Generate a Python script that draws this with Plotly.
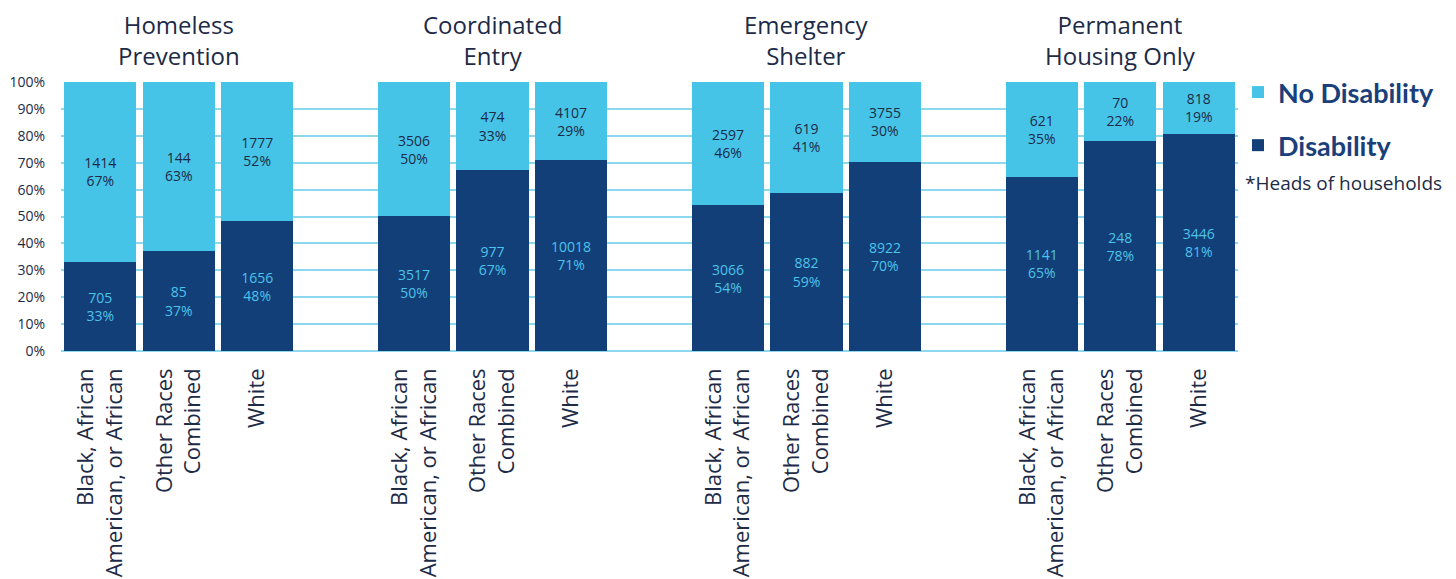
import plotly.graph_objects as go

programs = ["Homeless<br>Prevention", "Coordinated<br>Entry", "Emergency<br>Shelter", "Permanent<br>Housing Only"]
races = ["Black, African<br>American, or African", "Other Races<br>Combined", "White"]

disability = [705, 85, 1656, 3517, 977, 10018, 3066, 882, 8922, 1141, 248, 3446]
no_disability = [1414, 144, 1777, 3506, 474, 4107, 2597, 619, 3755, 621, 70, 818]
disability_pct = [33, 37, 48, 50, 67, 71, 54, 59, 70, 65, 78, 81]
no_disability_pct = [67, 63, 52, 50, 33, 29, 46, 41, 30, 35, 22, 19]

# x slots: 3 bars per program, one empty slot between programs
xpos = [g * 4 + i for g in range(len(programs)) for i in range(len(races))]
ticktext = [races[i] for g in range(len(programs)) for i in range(len(races))]

totals = [d + n for d, n in zip(disability, no_disability)]
dis_share = [d / t for d, t in zip(disability, totals)]
nodis_share = [n / t for n, t in zip(no_disability, totals)]

DARK = "#133f78"
LIGHT = "#46c4e8"
NAVY = "#1d2b47"
FONT = "Open Sans"

fig = go.Figure()
fig.add_trace(go.Bar(
    x=xpos, y=dis_share, name="Disability",
    marker=dict(color=DARK, line=dict(width=0)),
    text=[f"{c}<br>{p}%" for c, p in zip(disability, disability_pct)],
    textposition="inside", insidetextanchor="middle", textangle=0,
    textfont=dict(color="#4cc3ea", size=14, family=FONT),
    legendgroup="d", legendrank=2,
    hoverinfo="skip",
))
fig.add_trace(go.Bar(
    x=xpos, y=nodis_share, name="No Disability",
    marker=dict(color=LIGHT, line=dict(width=0)),
    text=[f"{c}<br>{p}%" for c, p in zip(no_disability, no_disability_pct)],
    textposition="inside", insidetextanchor="middle", textangle=0,
    textfont=dict(color=NAVY, size=14, family=FONT),
    legendgroup="n", legendrank=1,
    hoverinfo="skip",
))

for g, name in enumerate(programs):
    fig.add_annotation(
        x=g * 4 + 1, y=1.0, xref="x", yref="paper", yanchor="bottom",
        yshift=9, text=name, showarrow=False, borderpad=0,
        font=dict(size=24, color=NAVY, family=FONT),
    )

fig.add_annotation(
    x=1.0, xref="paper", xshift=5, xanchor="left",
    y=(351 - 183) / 269, yref="paper", yanchor="middle",
    text="*Heads of households", showarrow=False,
    font=dict(size=19, color=NAVY, family=FONT),
)

fig.update_layout(
    width=1448, height=571,
    barmode="stack", bargap=0.08,
    plot_bgcolor="white", paper_bgcolor="white",
    margin=dict(l=53, r=218, t=74, b=228, autoexpand=False),
    font=dict(family=FONT, color=NAVY),
    showlegend=True,
    legend=dict(
        x=1.0, xanchor="left", y=1.052, yanchor="top",
        font=dict(size=27, color="#1a3f7a", family="Lato", weight="bold"),
        tracegroupgap=15, itemclick=False, itemdoubleclick=False,
    ),
    xaxis=dict(
        range=[-0.5, 14.5], tickmode="array", tickvals=xpos, ticktext=ticktext,
        tickangle=-90, tickfont=dict(size=22, color=NAVY, family=FONT),
        showgrid=False, zeroline=False, showline=False, ticks="",
        ticklabelstandoff=12, automargin=False,
    ),
    yaxis=dict(
        range=[0, 1], tickformat=".0%", dtick=0.1,
        tickfont=dict(size=14, color=NAVY, family=FONT),
        showgrid=True, gridcolor="#8dd7ef", gridwidth=1.5,
        zeroline=True, zerolinecolor="#8dd7ef", zerolinewidth=1.5,
        ticklabelstandoff=15, automargin=False,
    ),
)

fig.write_html("out.html")
